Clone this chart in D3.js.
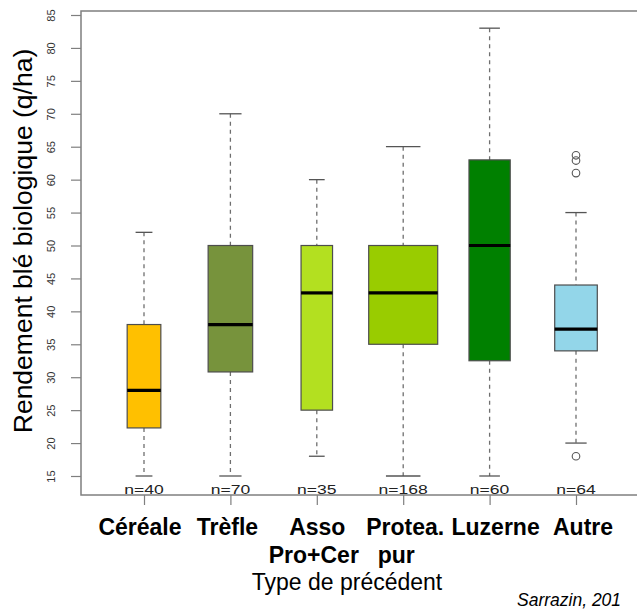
<!DOCTYPE html>
<html>
<head>
<meta charset="utf-8">
<script src="https://cdn.jsdelivr.net/npm/d3@7"></script>
<style>
  html, body { margin: 0; padding: 0; background: #fff; }
  svg { display: block; }
  text { font-family: "Liberation Sans", Arial, sans-serif; }
</style>
</head>
<body>
<svg id="chart" width="637" height="612"></svg>
<script>
// ---- data ----
const categories = ["Céréale", "Trèfle", "Asso Pro+Cer", "Protea. pur", "Luzerne", "Autre"];
const labelLines = [["Céréale"], ["Trèfle"], ["Asso", "Pro+Cer"], ["Protea.", "pur"], ["Luzerne"], ["Autre"]];
const nObs = [40, 70, 35, 168, 60, 64];
const whiskerLow = [15, 15, 18, 15, 15, 20];
const q1 = [22.3, 30.8, 25, 35, 32.5, 34];
const median = [28, 38, 42.8, 42.8, 50, 37.3];
const q3 = [38, 50, 50, 50, 63, 44];
const whiskerHigh = [52, 70, 60, 65, 83, 55];
const outliers = [[], [], [], [], [], [63.7, 62.9, 61, 18]];
const boxColors = ["#FFC000", "#77933C", "#B3E020", "#99CC00", "#008000", "#93D6E9"];
const yTickValues = [15, 20, 25, 30, 35, 40, 45, 50, 55, 60, 65, 70, 75, 80, 85];
const yTitle = "Rendement blé biologique (q/ha)";
const xTitle = "Type de précédent";
const credit = "Sarrazin, 201";

// ---- layout ----
const labelDx = [[-4], [-3], [0.5, -3], [2, -7], [6], [7]];
const svg = d3.select("#chart");
const y = d3.scaleLinear().domain([15, 85]).range([476, 15]);
const x = d3.scalePoint().domain(categories).range([144, 576]);
const w = d3.scaleSqrt().domain([0, 168]).range([0, 69]);
const frameLeft = 81, frameTop = 11, frameBottom = 495;

const data = categories.map((c, i) => ({
  cat: c, n: nObs[i], lo: whiskerLow[i], q1: q1[i], med: median[i],
  q3: q3[i], hi: whiskerHigh[i], out: outliers[i], color: boxColors[i], lines: labelLines[i], dx: labelDx[i]
}));

// frame
svg.append("rect")
  .attr("x", frameLeft).attr("y", frameTop)
  .attr("width", 700).attr("height", frameBottom - frameTop)
  .attr("fill", "none").attr("stroke", "#7f7f7f").attr("stroke-width", 1.5);

// y axis
const yAxis = d3.axisLeft(y).tickValues(yTickValues).tickSize(10).tickPadding(0).tickSizeOuter(0);
const gy = svg.append("g").attr("transform", `translate(${frameLeft},0)`).call(yAxis);
gy.select(".domain").remove();
gy.selectAll(".tick line").attr("stroke", "#7f7f7f").attr("stroke-width", 1.2);
gy.selectAll(".tick text")
  .attr("x", 0).attr("dy", 0)
  .attr("transform", "translate(-26,0) rotate(-90)")
  .attr("text-anchor", "middle")
  .attr("font-size", 11).attr("fill", "#333")
  .attr("font-family", "Liberation Sans, Arial, sans-serif");

// x axis ticks
const xAxis = d3.axisBottom(x).tickSize(10).tickFormat("").tickSizeOuter(0);
const gx = svg.append("g").attr("transform", `translate(0,${frameBottom})`).call(xAxis);
gx.select(".domain").remove();
gx.selectAll(".tick line").attr("stroke", "#7f7f7f").attr("stroke-width", 1.2);

// boxes
const g = svg.selectAll("g.box").data(data).join("g").attr("class", "box");

// whiskers (dashed)
g.append("line")
  .attr("x1", d => x(d.cat)).attr("x2", d => x(d.cat))
  .attr("y1", d => y(d.hi)).attr("y2", d => y(d.q3))
  .attr("stroke", "#6f6f6f").attr("stroke-width", 1.3).attr("stroke-dasharray", "4,4");
g.append("line")
  .attr("x1", d => x(d.cat)).attr("x2", d => x(d.cat))
  .attr("y1", d => y(d.q1)).attr("y2", d => y(d.lo))
  .attr("stroke", "#6f6f6f").attr("stroke-width", 1.3).attr("stroke-dasharray", "4,4");
// caps
g.append("line")
  .attr("x1", d => x(d.cat) - w(d.n) / 4).attr("x2", d => x(d.cat) + w(d.n) / 4)
  .attr("y1", d => y(d.hi)).attr("y2", d => y(d.hi))
  .attr("stroke", "#555").attr("stroke-width", 1.3);
g.append("line")
  .attr("x1", d => x(d.cat) - w(d.n) / 4).attr("x2", d => x(d.cat) + w(d.n) / 4)
  .attr("y1", d => y(d.lo)).attr("y2", d => y(d.lo))
  .attr("stroke", "#555").attr("stroke-width", 1.3);
// box
g.append("rect")
  .attr("x", d => x(d.cat) - w(d.n) / 2).attr("width", d => w(d.n))
  .attr("y", d => y(d.q3)).attr("height", d => y(d.q1) - y(d.q3))
  .attr("fill", d => d.color).attr("stroke", "#4d4d4d").attr("stroke-width", 1.2);
// median
g.append("line")
  .attr("x1", d => x(d.cat) - w(d.n) / 2).attr("x2", d => x(d.cat) + w(d.n) / 2)
  .attr("y1", d => y(d.med)).attr("y2", d => y(d.med))
  .attr("stroke", "#000").attr("stroke-width", 3.2);
// outliers
g.selectAll("circle").data(d => d.out.map(v => ({cat: d.cat, v}))).join("circle")
  .attr("cx", d => x(d.cat)).attr("cy", d => y(d.v)).attr("r", 3.8)
  .attr("fill", "none").attr("stroke", "#555").attr("stroke-width", 1.1);

// n= labels
g.append("text")
  .attr("transform", d => `translate(${x(d.cat)},${frameBottom - 1}) scale(1.3,1)`)
  .attr("text-anchor", "middle").attr("font-size", 13.5).attr("fill", "#222")
  .text(d => "n=" + d.n);

// category labels
g.each(function(d) {
  const sel = d3.select(this);
  d.lines.forEach((ln, j) => {
    sel.append("text")
      .attr("x", x(d.cat) + d.dx[j]).attr("y", 535 + j * 27.5)
      .attr("text-anchor", "middle").attr("font-size", 23).attr("font-weight", "bold")
      .attr("fill", "#000").text(ln);
  });
});

// titles
svg.append("text")
  .attr("transform", "translate(32,241) rotate(-90)")
  .attr("text-anchor", "middle").attr("font-size", 26.5).attr("fill", "#000")
  .text(yTitle);
svg.append("text")
  .attr("x", 347).attr("y", 590)
  .attr("text-anchor", "middle").attr("font-size", 23).attr("fill", "#000")
  .text(xTitle);
svg.append("text")
  .attr("x", 517).attr("y", 606)
  .attr("font-size", 17.5).attr("font-style", "italic").attr("fill", "#000")
  .text(credit);
</script>
</body>
</html>
